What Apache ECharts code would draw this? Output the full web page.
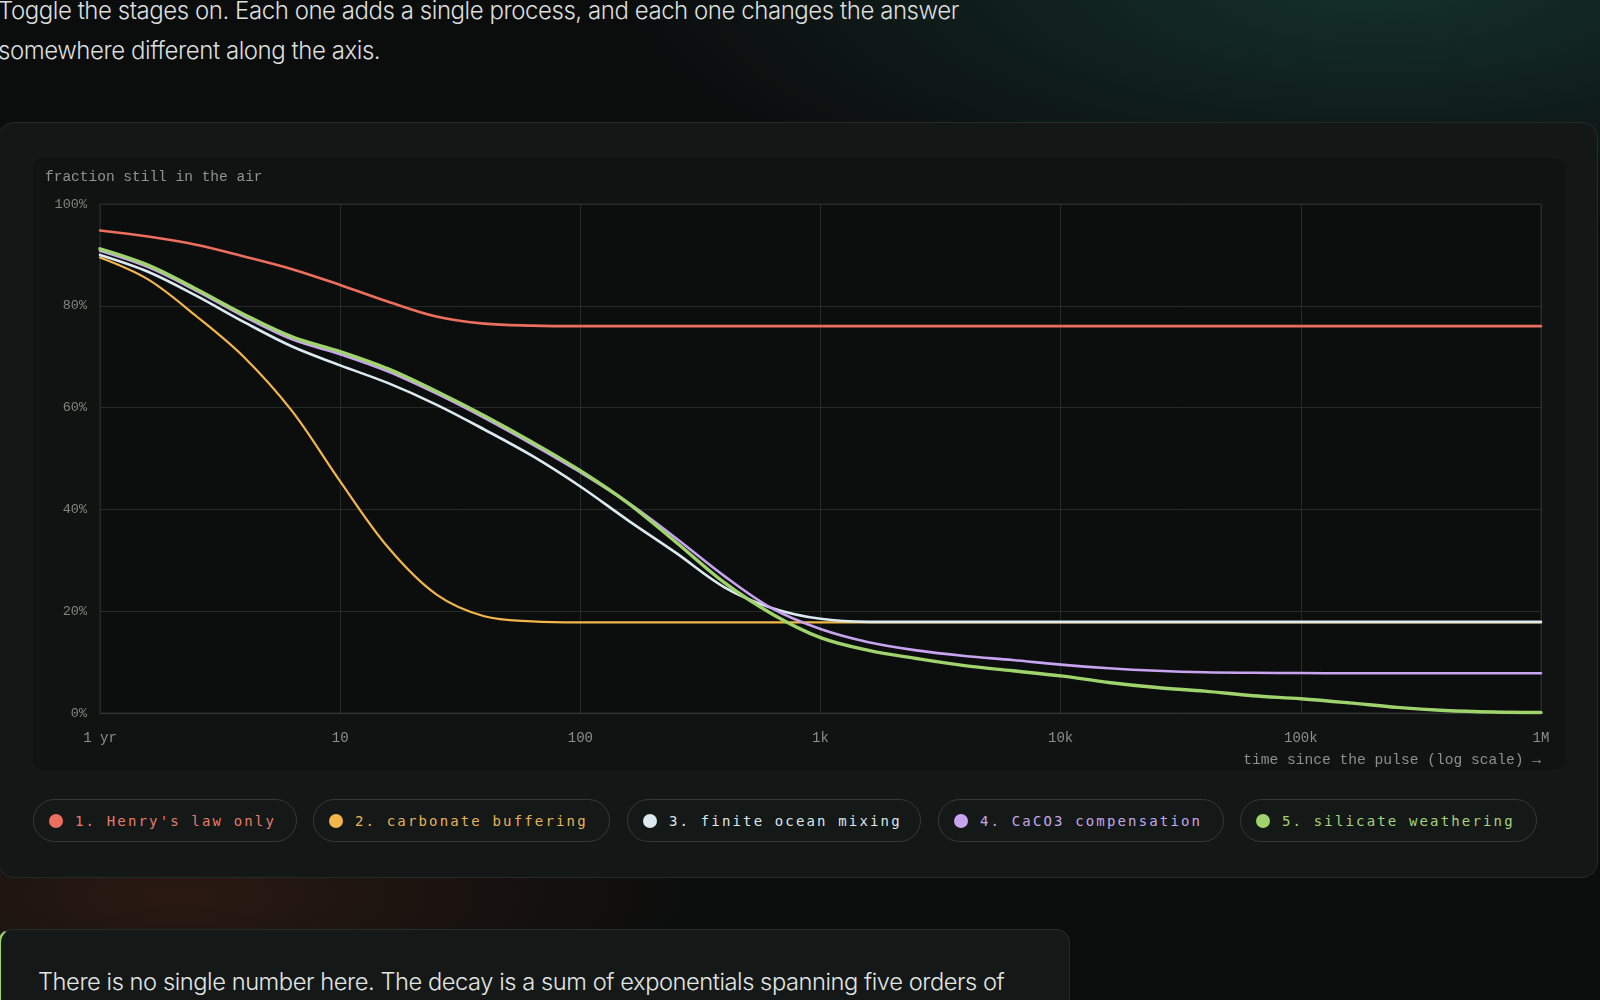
<!DOCTYPE html>
<html>
<head>
<meta charset="utf-8">
<script src="https://cdn.jsdelivr.net/npm/echarts@6/dist/echarts.min.js"></script>
<style>
  html, body { margin: 0; padding: 0; }
  body {
    width: 1600px; height: 1000px; overflow: hidden; position: relative;
    background:
      radial-gradient(ellipse 760px 260px at 1380px -20px, rgba(28, 78, 66, 0.55), rgba(0,0,0,0) 100%),
      radial-gradient(ellipse 520px 150px at 180px 895px, rgba(80, 40, 24, 0.45), rgba(0,0,0,0) 100%),
      #0b0d0d;
    font-family: Inter, "Noto Sans", sans-serif;
  }
  .lead {
    position: absolute; left: -2px; top: -9px; width: 1200px;
    font-size: 24px; line-height: 40px; font-weight: 300; letter-spacing: -0.45px;
    color: #dcdfdd;
  }
  .card {
    position: absolute; left: -2px; top: 122px; width: 1600px; height: 756px;
    background: #131716; border: 1px solid #262b29; border-radius: 16px; box-sizing: border-box;
  }
  .panel {
    position: absolute; left: 33px; top: 158px; width: 1533px; height: 612px;
    background: #101312; border-radius: 10px;
  }
  #chart { position: absolute; left: 0; top: 0; width: 1600px; height: 1000px; }
  .pills { position: absolute; left: 33px; top: 799px; height: 43px; }
  .pill {
    position: absolute; top: 0; height: 43px; box-sizing: border-box;
    border: 1px solid #353a38; border-radius: 22px; background: #141816;
    display: flex; align-items: center; padding-left: 15px;
    font-family: "DejaVu Sans Mono", monospace; font-size: 14px; letter-spacing: 2.15px;
    white-space: nowrap;
  }
  .dot { width: 14px; height: 14px; border-radius: 50%; margin-right: 12px; flex: none; }
  .note {
    position: absolute; left: -2px; top: 929px; width: 1072px; height: 200px;
    background: #141817; border: 1px solid #272c2a; border-left: 3px solid #9ed36a;
    border-radius: 14px; box-sizing: border-box;
  }
  .note-text {
    position: absolute; left: 38px; top: 962px; width: 1100px;
    font-size: 23.7px; line-height: 40px; font-weight: 300; letter-spacing: -0.45px;
    color: #e2e6e4; white-space: nowrap;
  }
</style>
</head>
<body>
<div class="lead">Toggle the stages on. Each one adds a single process, and each one changes the answer<br>somewhere different along the axis.</div>
<div class="card"></div>
<div class="panel"></div>
<div class="pills" id="pills"></div>
<div class="note"></div>
<div class="note-text">There is no single number here. The decay is a sum of exponentials spanning five orders of</div>
<div id="chart"></div>
<script>
// ---- data (years since pulse, % of pulse still airborne) ----
const years = [1, 1.585, 2.512, 3.981, 6.31, 10, 15.85, 25.12, 39.81, 63.1,
  100, 158.5, 251.2, 398.1, 631, 1000, 1585, 2512, 3981, 6310,
  10000, 15850, 25120, 39810, 63100, 100000, 158500, 251200, 398100, 631000, 1000000];

const henry = [94.8, 93.6, 92.0, 89.7, 87.2, 84.1, 80.8, 77.9, 76.5, 76.1,
  76.0, 76.0, 76.0, 76.0, 76.0, 76.0, 76.0, 76.0, 76.0, 76.0,
  76.0, 76.0, 76.0, 76.0, 76.0, 76.0, 76.0, 76.0, 76.0, 76.0, 76.0];

const carbonate = [89.5, 85.2, 78.0, 69.9, 59.3, 45.5, 32.5, 23.3, 19.0, 18.0,
  17.8, 17.8, 17.8, 17.8, 17.8, 17.8, 17.8, 17.8, 17.8, 17.8,
  17.8, 17.8, 17.8, 17.8, 17.8, 17.8, 17.8, 17.8, 17.8, 17.8, 17.8];

const finiteOcean = [90.0, 86.7, 82.0, 76.8, 72.0, 68.3, 64.8, 60.6, 55.7, 50.5,
  44.5, 37.8, 31.4, 24.7, 20.6, 18.5, 17.9, 17.9, 17.9, 17.9,
  17.9, 17.9, 17.9, 17.9, 17.9, 17.9, 17.9, 17.9, 17.9, 17.9, 17.9];

const caco3 = [90.8, 87.6, 83.0, 77.9, 73.4, 70.5, 67.1, 62.8, 58.0, 52.8,
  47.3, 41.3, 34.3, 26.9, 20.5, 16.5, 13.9, 12.3, 11.2, 10.4,
  9.5, 8.8, 8.3, 8.0, 7.9, 7.85, 7.8, 7.8, 7.8, 7.8, 7.8];

const silicate = [91.2, 88.0, 83.3, 78.3, 73.9, 71.0, 67.6, 63.2, 58.4, 53.2,
  47.6, 41.2, 33.5, 25.6, 19.4, 14.8, 12.3, 10.7, 9.3, 8.3,
  7.3, 6.0, 5.0, 4.3, 3.4, 2.8, 2.0, 1.1, 0.5, 0.2, 0.1];

const seriesNames = ["1. Henry's law only", "2. carbonate buffering", "3. finite ocean mixing",
  "4. CaCO3 compensation", "5. silicate weathering"];
const seriesValues = [henry, carbonate, finiteOcean, caco3, silicate];

const xTickLabels = { 1: '1 yr', 10: '10', 100: '100', 1000: '1k', 10000: '10k', 100000: '100k', 1000000: '1M' };
const yTicks = [0, 20, 40, 60, 80, 100];

// ---- styles ----
const lineColors = ['#ec6f5e', '#f2b64a', '#dbeaf0', '#c8a3ef', '#9fd46c'];
const textColors = ['#e77c6b', '#e6b35a', '#dce6ea', '#c5a7e8', '#a5d27b'];
const lineWidths = [2.6, 2.2, 2.6, 2.6, 3.4];
const pillBox = [[0, 264], [280, 297], [594, 294], [905, 286], [1207, 297]];

const pills = document.getElementById('pills');
seriesNames.forEach((n, i) => {
  const p = document.createElement('div');
  p.className = 'pill';
  p.style.left = pillBox[i][0] + 'px';
  p.style.width = pillBox[i][1] + 'px';
  p.style.color = textColors[i];
  const d = document.createElement('span');
  d.className = 'dot';
  d.style.background = lineColors[i];
  p.appendChild(d);
  p.appendChild(document.createTextNode(n));
  pills.appendChild(p);
});

const chart = echarts.init(document.getElementById('chart'), null, { renderer: 'canvas' });
const mono = '"Liberation Mono", "DejaVu Sans Mono", monospace';
chart.setOption({
  animation: false,
  backgroundColor: 'transparent',
  title: {
    text: 'fraction still in the air', left: 40, top: 165,
    textStyle: { fontFamily: mono, fontSize: 14.5, fontWeight: 'normal', color: '#8d938f' }
  },
  grid: {
    left: 100, right: 59, top: 204, bottom: 287,
    show: true, backgroundColor: '#0c0e0e', borderColor: '#262a28', borderWidth: 1
  },
  xAxis: {
    type: 'log', logBase: 10, min: 1, max: 1000000, splitNumber: 6,
    name: 'time since the pulse (log scale) →',
    nameLocation: 'end', nameGap: 0,
    nameTextStyle: { fontFamily: mono, fontSize: 14.6, color: '#8a908d', align: 'right', verticalAlign: 'top', padding: [40, 0, 0, 0] },
    axisLine: { show: true, lineStyle: { color: '#333836', width: 1 } },
    axisTick: { show: false },
    minorTick: { show: false },
    splitLine: { show: true, lineStyle: { color: '#262a28', width: 1 } },
    axisLabel: {
      fontFamily: mono, fontSize: 14, color: '#8a908d', margin: 18,
      formatter: v => xTickLabels[Math.round(v)] !== undefined ? xTickLabels[Math.round(v)] : ''
    }
  },
  yAxis: {
    type: 'value', min: 0, max: 100, interval: 20,
    axisLine: { show: false }, axisTick: { show: false },
    splitLine: { show: true, lineStyle: { color: '#262a28', width: 1 } },
    axisLabel: { fontFamily: mono, fontSize: 13.5, color: '#80867f', margin: 13,
      formatter: v => yTicks.includes(v) ? v + '%' : '' }
  },
  series: seriesNames.map((n, i) => ({
    name: n, type: 'line', showSymbol: false, smooth: 0.35,
    z: 2 + i,
    lineStyle: { color: lineColors[i], width: lineWidths[i], cap: 'round', join: 'round' },
    itemStyle: { color: lineColors[i] },
    data: years.map((t, k) => [t, seriesValues[i][k]])
  }))
});
</script>
</body>
</html>
